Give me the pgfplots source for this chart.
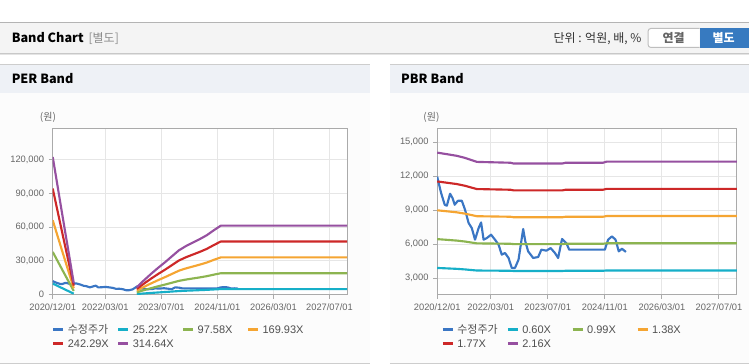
\documentclass[border=0pt]{standalone}
\usepackage{pgfplots}
\pgfplotsset{compat=1.18}
\usepackage{fontspec}
\setmainfont{Liberation Sans}
\newfontfamily\kr{Noto Sans CJK KR}
\definecolor{cprice}{RGB}{58,118,196}
\definecolor{ccyan}{RGB}{22,175,200}
\definecolor{cgreen}{RGB}{140,180,80}
\definecolor{corange}{RGB}{245,165,50}
\definecolor{cred}{RGB}{205,40,40}
\definecolor{cpurple}{RGB}{150,80,160}
\definecolor{hdr}{RGB}{244,244,244}
\definecolor{hdrline}{RGB}{180,180,180}
\definecolor{shad1}{RGB}{200,200,200}
\definecolor{shad2}{RGB}{228,228,228}
\definecolor{phdr}{RGB}{238,241,246}
\definecolor{pbody}{RGB}{252,252,252}
\definecolor{pline}{RGB}{205,205,205}
\definecolor{gridc}{RGB}{230,230,230}
\definecolor{axc}{RGB}{170,170,170}
\definecolor{tickc}{RGB}{102,102,102}
\definecolor{legc}{RGB}{80,80,80}
\definecolor{grtxt}{RGB}{140,140,140}
\definecolor{dktxt}{RGB}{51,51,51}
\definecolor{btntxt}{RGB}{100,100,100}
\definecolor{btnline}{RGB}{190,190,190}
\definecolor{btnblue}{RGB}{55,122,192}
\pgfplotsset{
  bandaxis/.style={
    anchor=south west, scale only axis, width=221pt, height=125pt,
    xmin=0, xmax=84,
    xtick={0,15,31,47,63,79},
    xticklabels={2020/12/01,2022/03/01,2023/07/01,2024/11/01,2026/03/01,2027/07/01},
    scaled y ticks=false, scaled x ticks=false,
    grid=major, major grid style={gridc, line width=0.75pt},
    axis line style={axc, line width=0.75pt},
    tick style={axc, line width=0.75pt}, tick align=outside, major tick length=3pt, tick pos=left,
    ticklabel style={font=\fontsize{7}{8}\selectfont, text=tickc},
    unbounded coords=jump,
    every axis plot/.append style={line width=1.6pt, line join=round, mark=none},
  }
}
\begin{document}
\begin{tikzpicture}[x=0.75pt,y=-0.75pt]
\fill[white] (0,0) rectangle (749,364);
% top header
\fill[hdr] (0,22) rectangle (749,53);
\draw[hdrline, line width=0.75pt] (0,22.5) -- (749,22.5);
\draw[shad1, line width=0.75pt] (0,53.5) -- (749,53.5);
\draw[shad2, line width=0.75pt] (0,54.5) -- (749,54.5);
\node[anchor=base west, inner sep=0, font=\kr\bfseries\fontsize{9.5}{11}\selectfont] at (11,43) {Band Chart};
\node[anchor=base west, inner sep=0, text=grtxt, font=\kr\fontsize{9}{11}\selectfont] at (88,43) {[별도]};
\node[anchor=base east, inner sep=0, text=dktxt, font=\kr\fontsize{9}{11}\selectfont] at (642,43) {단위 : 억원, 배, \%};
\draw[fill=white, draw=btnline, line width=0.75pt, rounded corners=2pt] (700,28.5) -- (648.5,28.5) -- (648.5,47.5) -- (700,47.5);
\fill[btnblue] (700,28) rectangle (749,48);
\node[inner sep=0, text=btntxt, font=\kr\bfseries\fontsize{9}{11}\selectfont] at (674,38) {연결};
\node[inner sep=0, text=white, font=\kr\bfseries\fontsize{9}{11}\selectfont] at (724,38) {별도};
% panels
\fill[phdr] (0,64) rectangle (370,93);
\fill[phdr] (390,64) rectangle (749,93);
\draw[pline, line width=0.75pt] (0,64.5) -- (370,64.5);
\draw[pline, line width=0.75pt] (390,64.5) -- (749,64.5);
\fill[pbody] (0,93) rectangle (370,363);
\fill[pbody] (390,93) rectangle (749,363);
\draw[pline, line width=0.75pt] (0,363.5) -- (370,363.5);
\draw[pline, line width=0.75pt] (390,363.5) -- (749,363.5);
\node[anchor=base west, inner sep=0, font=\kr\bfseries\fontsize{9.5}{11}\selectfont] at (11,84) {PER Band};
\node[anchor=base west, inner sep=0, font=\kr\bfseries\fontsize{9.5}{11}\selectfont] at (401,84) {PBR Band};
\node[inner sep=0, text=tickc, font=\kr\fontsize{7.5}{9}\selectfont] at (47.5,118) {(원)};
\node[inner sep=0, text=tickc, font=\kr\fontsize{7.5}{9}\selectfont] at (431.5,118) {(원)};

% PER axis
\begin{axis}[bandaxis, at={(39.225pt,-221.25pt)},
  ymin=0, ymax=148000,
  ytick={0,30000,60000,90000,120000},
  yticklabels={0,{30,000},{60,000},{90,000},{120,000}},
  axis background/.style={fill=white}]
\addplot[cprice] coordinates {(0,11950)(1.1,10500)(2.1,9480)(2.7,9390)(3.6,10450)(4.3,10060)(4.9,9480)(5.8,9830)(6.9,9830)(7.8,9040)(8.8,7870)(9.7,7420)(10.6,6400)(11.6,7420)(12.3,7920)(13.0,6400)(13.9,6540)(15.1,6840)(16.2,6400)(17.2,5960)(18.1,5080)(19.0,5230)(20.0,4790)(20.9,3910)(21.8,3910)(22.8,4640)(24.1,7340)(24.7,6250)(25.5,5370)(26.9,4790)(28.3,4870)(29.2,5520)(30.6,5430)(31.8,5660)(33.0,5230)(33.9,4790)(35.0,6460)(36.2,6100)(37.0,5520)(38.6,5520)(47.0,5520)(47.9,6400)(49.0,6690)(50.0,6400)(50.9,5370)(51.8,5600)(52.9,5320)};
\addplot[ccyan] coordinates {(0,9811)(3,5296)(6,832)(15,nan)(24,530)(26,1009)(28,1463)(30,1892)(32,2295)(34,2724)(36,3153)(38,3455)(40,3707)(42,3960)(44,4237)(46,4590)(48,4918)(84,4918)};
\addplot[cgreen] coordinates {(0,37959)(3,20492)(6,3220)(15,nan)(24,2049)(26,3903)(28,5660)(30,7319)(32,8880)(34,10539)(36,12198)(38,13368)(40,14344)(42,15320)(44,16393)(46,17760)(48,19028)(84,19028)};
\addplot[corange] coordinates {(0,66103)(3,35685)(6,5608)(15,nan)(24,3569)(26,6797)(28,9856)(30,12745)(32,15464)(34,18352)(36,21241)(38,23280)(40,24980)(42,26679)(44,28548)(46,30927)(48,33136)(84,33136)};
\addplot[cred] coordinates {(0,94251)(3,50881)(6,7996)(15,nan)(24,5088)(26,9692)(28,14053)(30,18172)(32,22048)(34,26167)(36,30286)(38,33194)(40,35617)(42,38040)(44,40705)(46,44097)(48,47247)(84,47247)};
\addplot[cpurple] coordinates {(0,122395)(3,66074)(6,10383)(15,nan)(24,6607)(26,12586)(28,18249)(30,23598)(32,28632)(34,33981)(36,39330)(38,43106)(40,46252)(42,49398)(44,52860)(46,57264)(48,61355)(84,61355)};
\end{axis}

% PBR axis
\begin{axis}[bandaxis, at={(327.975pt,-221.25pt)}, width=225pt,
  ymin=1560, ymax=16226,
  ytick={3000,6000,9000,12000,15000},
  yticklabels={{3,000},{6,000},{9,000},{12,000},{15,000}},
  axis background/.style={fill=white}]
\addplot[cprice] coordinates {(0,11950)(1.1,10500)(2.1,9480)(2.7,9390)(3.6,10450)(4.3,10060)(4.9,9480)(5.8,9830)(6.9,9830)(7.8,9040)(8.8,7870)(9.7,7420)(10.6,6400)(11.6,7420)(12.3,7920)(13.0,6400)(13.9,6540)(15.1,6840)(16.2,6400)(17.2,5960)(18.1,5080)(19.0,5230)(20.0,4790)(20.9,3910)(21.8,3910)(22.8,4640)(24.1,7340)(24.7,6250)(25.5,5370)(26.9,4790)(28.3,4870)(29.2,5520)(30.6,5430)(31.8,5660)(33.0,5230)(33.9,4790)(35.0,6460)(36.2,6100)(37.0,5520)(38.6,5520)(47.0,5520)(47.9,6400)(49.0,6690)(50.0,6400)(50.9,5370)(51.8,5600)(52.9,5320)};
\addplot[ccyan] coordinates {(0,3908)(2.2,3878)(5.5,3830)(7.8,3779)(11.1,3682)(20.5,3661)(21.5,3641)(35,3641)(36,3661)(46.5,3661)(47.5,3688)(84,3688)};
\addplot[cgreen] coordinates {(0,6449)(2.2,6398)(5.5,6320)(7.8,6236)(11.1,6075)(20.5,6041)(21.5,6007)(35,6007)(36,6041)(46.5,6041)(47.5,6086)(84,6086)};
\addplot[corange] coordinates {(0,8989)(2.2,8919)(5.5,8810)(7.8,8693)(11.1,8468)(20.5,8421)(21.5,8374)(35,8374)(36,8421)(46.5,8421)(47.5,8483)(84,8483)};
\addplot[cred] coordinates {(0,11530)(2.2,11440)(5.5,11300)(7.8,11149)(11.1,10861)(20.5,10801)(21.5,10740)(35,10740)(36,10801)(46.5,10801)(47.5,10880)(84,10880)};
\addplot[cpurple] coordinates {(0,14070)(2.2,13960)(5.5,13789)(7.8,13606)(11.1,13254)(20.5,13180)(21.5,13107)(35,13107)(36,13180)(46.5,13180)(47.5,13278)(84,13278)};
\end{axis}

% legends
\begin{scope}[line width=2.2pt]
\foreach \dx/\r/\lab/\c in {0/330/{\kr 수정주가}/cprice, 65/330/25.22X/ccyan, 130/330/97.58X/cgreen, 195/330/169.93X/corange, 0/344/242.29X/cred, 65/344/314.64X/cpurple}{
  \draw[\c] (53+\dx,\r) -- (63+\dx,\r);
  \node[anchor=west, inner sep=0, text=legc, font=\fontsize{8.25}{10}\selectfont] at (66+\dx,\r) {\lab};
}
\foreach \dx/\r/\lab/\c in {0/330/{\kr 수정주가}/cprice, 65/330/0.60X/ccyan, 130/330/0.99X/cgreen, 195/330/1.38X/corange, 0/344/1.77X/cred, 65/344/2.16X/cpurple}{
  \draw[\c] (443+\dx,\r) -- (453+\dx,\r);
  \node[anchor=west, inner sep=0, text=legc, font=\fontsize{8.25}{10}\selectfont] at (456+\dx,\r) {\lab};
}
\end{scope}
\end{tikzpicture}
\end{document}
